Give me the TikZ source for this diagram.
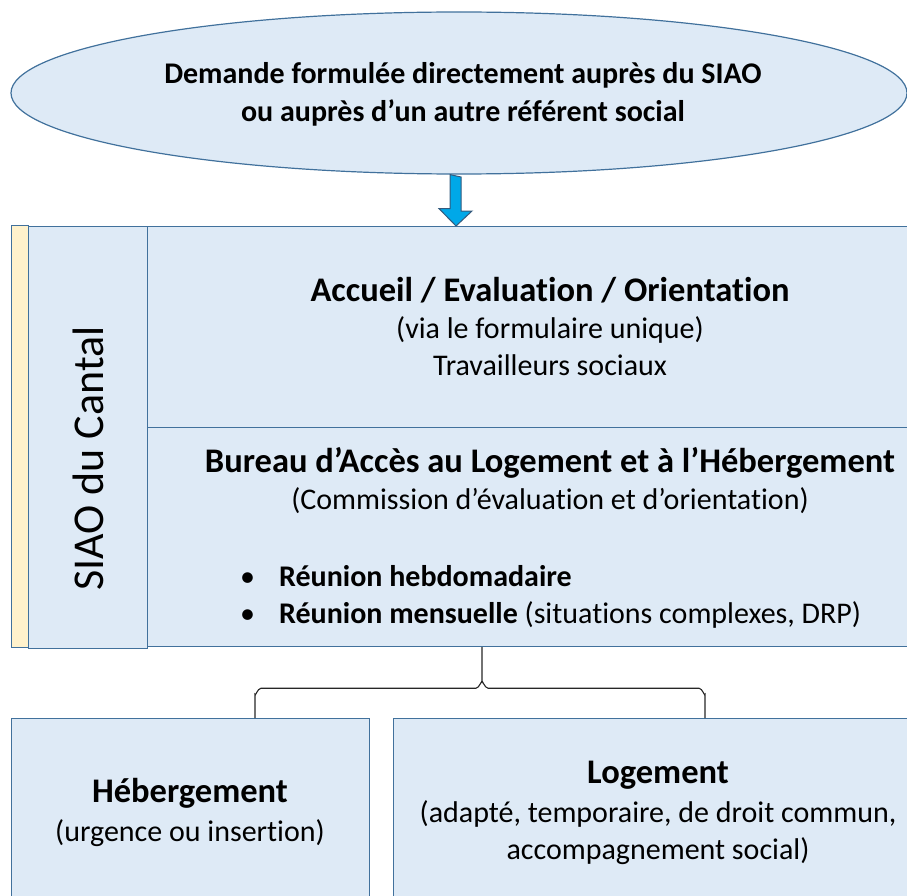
\documentclass[tikz,border=0pt]{standalone}
\usepackage{fontspec}
\setmainfont{Carlito}[Ligatures=NoCommon]
\usetikzlibrary{shapes.geometric,calc}

\begin{document}
\begin{tikzpicture}[x=1pt,y=-1pt,
    box/.style={draw=borderColour, fill=fillColour, line width=1.2pt, inner sep=0pt, anchor=north west},
    bigtitle/.style={align=center, font=\fontsize{34.5}{38}\selectfont\bfseries},
    bodytext/.style={align=center, font=\fontsize{30}{37}\selectfont},
    brace/.style={draw=black!85, line width=1.1pt}]
    % Define colours
    \definecolor{borderColour}{HTML}{41719C}
    \definecolor{fillColour}{HTML}{DEEAF6}
    \definecolor{stripColour}{HTML}{FFF2CC}
    \definecolor{arrowColour}{HTML}{00A8E8}

    % Page frame
    \useasboundingbox (0,0) rectangle (907,896);

    % Request ellipse
    \node[ellipse, draw=borderColour, fill=fillColour, line width=1.2pt, inner sep=0pt,
          minimum width=896, minimum height=162] (demande) at (459,93) {};
    \node[align=center, font=\fontsize{30}{38}\selectfont\bfseries] (demandetxt) at (463,94)
        {Demande formulée directement auprès du SIAO\\ou auprès d’un autre référent social};

    % SIAO column
    \node[box, fill=stripColour, minimum width=17, minimum height=422] (strip) at (11,225) {};
    \node[box, minimum width=119, minimum height=422] (siao) at (28,226) {};
    \node[rotate=90, font=\fontsize{44}{48}\selectfont] (siaotxt) at ($(siao.center)+(0,21)$) {SIAO du Cantal};

    % Accueil and bureau boxes
    \node[box, minimum width=770, minimum height=201] (accueil) at (147,226) {};
    \node[box, minimum width=770, minimum height=219] (bureau) at (147,427) {};
    \node[bigtitle] (accueiltitle) at (550,290) {Accueil / Evaluation / Orientation};
    \node[bodytext] (accueiltxt) at (550,346) {(via le formulaire unique)\\Travailleurs sociaux};
    \node[bigtitle] (bureautitle) at (550,463) {Bureau d’Accès au Logement et à l’Hébergement};
    \node[bodytext] (bureautxt) at (550,501) {(Commission d’évaluation et d’orientation)};
    \node[bodytext, align=left, anchor=west, inner sep=0pt] (reunions) at (240,597)
        {\textbullet\hspace{24pt}\textbf{Réunion hebdomadaire}\\
         \textbullet\hspace{24pt}\textbf{Réunion mensuelle} (situations complexes, DRP)};

    % Arrow between ellipse and box
    \coordinate (atop) at ($(demande.south)+(-3,0)$);
    \filldraw[fill=arrowColour, draw=borderColour!80!black, line width=1pt]
        ($(atop)+(-6,0)$) -- ++(0,34) -- ++(-11,0) -- ($(accueil.north west)+(309,0)$)
        -- ++(16,-15) -- ++(-11,0) -- ++(0,-34) -- cycle;

    % Bottom boxes
    \node[box, minimum width=358, minimum height=190] (hebergement) at (11,718) {};
    \node[box, minimum width=524, minimum height=190] (logement) at (393,718) {};
    \node[bigtitle] (hebergementtitle) at (190,793) {Hébergement};
    \node[bodytext] (hebergementtxt) at (190,833) {(urgence ou insertion)};
    \node[bigtitle] (logementtitle) at (658,775) {Logement};
    \node[bodytext] (logementtxt) at (658,833) {(adapté, temporaire, de droit commun,\\accompagnement social)};

    % Brace
    \coordinate (tip) at ($(bureau.south west)+(335,0)$);
    \coordinate (mid) at ($(tip)+(0,41)$);
    \coordinate (leftend) at ($(hebergement.north west)+(244,0)$);
    \coordinate (rightend) at ($(logement.north west)+(312,0)$);
    \draw[brace] (tip) -- ($(mid)+(0,-6)$) to[out=90,in=0] ($(mid)+(-6,0)$)
        -- ($(leftend|-mid)+(6,0)$) to[out=180,in=-90] ($(leftend|-mid)+(0,6)$) -- (leftend);
    \draw[brace] ($(mid)+(0,-6)$) to[out=90,in=180] ($(mid)+(6,0)$)
        -- ($(rightend|-mid)+(-6,0)$) to[out=0,in=-90] ($(rightend|-mid)+(0,6)$) -- (rightend);
\end{tikzpicture}
\end{document}
